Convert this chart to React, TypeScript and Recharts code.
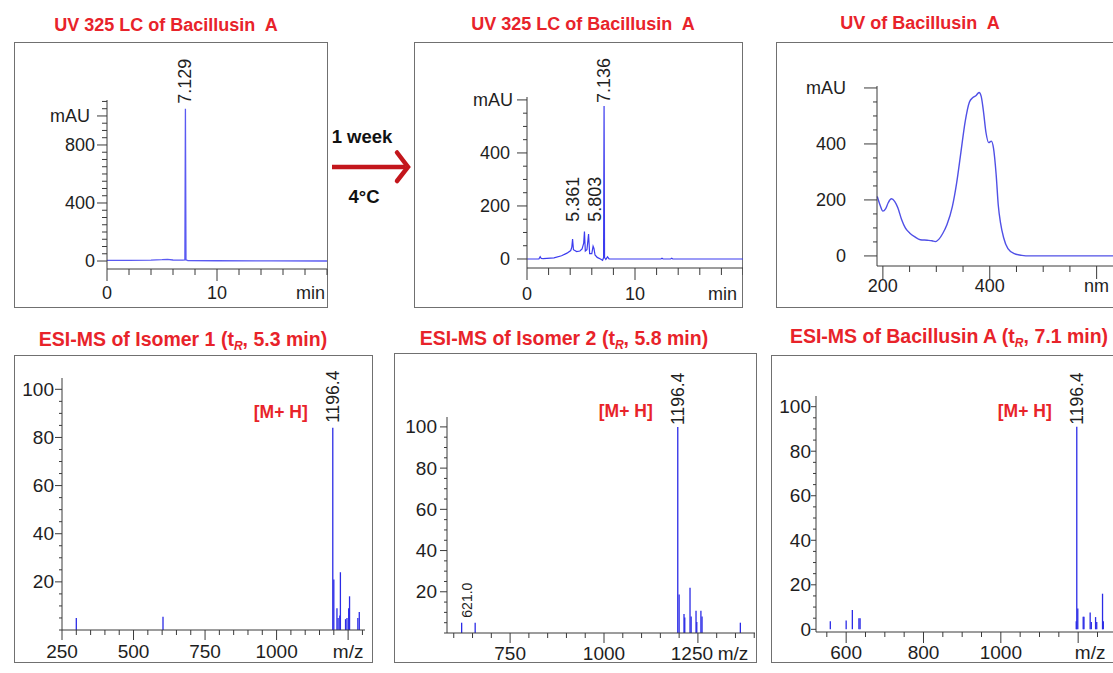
import React from 'react';
import { ComposedChart, Line, XAxis, YAxis, Scatter, ReferenceLine } from 'recharts';

const FONT = '"Liberation Sans", Arial, Helvetica, sans-serif';
const TITLE_RED = '#e8232a';
const ARROW_RED = '#c3161c';
const TRACE_BLUE = '#3b3bef';
const UV_BLUE = '#5050e6';
const STICK_BLUE = '#2b2be6';
const AXIS_GRAY = '#3a3a3a';
const TEXT = '#1e1e1e';
const BOX_GRAY = '#707070';

// ---------- Panel A: UV 325 LC of Bacillusin A (fresh) ----------
const lcBeforeTime = [0, 2, 4, 5, 5.5, 6, 6.9, 7.08, 7.129, 7.18, 7.35, 10, 15, 20];
const lcBeforeMau = [4, 5, 6, 9, 12, 7, 6, 8, 1050, 8, 3, 2, 1, 0];
const lcBeforeLabels = [{ x: 7.129, y: 1050, text: '7.129' }];

// ---------- Panel B: UV 325 LC after 1 week at 4 °C ----------
const lcAfterTime = [0, 1.1, 1.22, 1.32, 1.5, 2.5, 3.2, 3.7, 4.05, 4.15, 4.22, 4.3, 4.6, 4.9, 5.1, 5.25, 5.32, 5.4, 5.55, 5.7, 5.8, 6.0, 6.12, 6.2, 6.3, 6.5, 6.8, 7.0, 7.09, 7.136, 7.18, 7.3, 7.45, 7.6, 12.4, 12.5, 12.6, 13.3, 13.4, 13.5, 20];
const lcAfterMau = [0, 0, 9, 2, 1, 4, 12, 22, 32, 45, 75, 35, 28, 30, 38, 60, 104, 30, 35, 94, 20, 20, 48, 40, 15, 6, 0, -5, 5, 577, 5, -2, 8, 0, 0, 3, 0, 0, 3, 0, 0];
const lcAfterLabels = [
  { x: 7.136, y: 577, text: '7.136' },
  { x: 5.361, y: 140, text: '5.361' },
  { x: 5.803, y: 140, text: '5.803' },
];

// ---------- Panel C: UV spectrum ----------
const uvNm = [189.5, 195, 200, 205, 210, 216, 222, 228, 235, 242, 250, 260, 270, 283, 292, 298, 305, 312, 320, 330, 338, 346, 354, 362, 368, 374, 380, 384, 388, 393, 398, 403, 407, 412, 416, 420, 426, 434, 446, 460, 475, 640];
const uvMau = [212, 180, 160, 168, 190, 204, 195, 172, 130, 100, 82, 68, 58, 56, 54, 51, 60, 80, 112, 176, 260, 370, 480, 550, 565, 572, 584, 570, 520, 440, 405, 410, 385, 290, 180, 120, 65, 26, 8, 2, 0, 0];

// ---------- Panel D: ESI-MS isomer 1 ----------
const ms1Mz = [300, 603, 1196.4, 1200, 1211, 1215, 1221, 1223, 1241, 1246, 1252, 1255, 1284, 1289];
const ms1Int = [5, 5.5, 84, 21, 9, 5, 6, 24, 4.5, 5, 9, 14, 5, 7.5];
const ms1Labels = [{ x: 1196.4, y: 84, text: '1196.4', tag: '[M+ H]' }];

// ---------- Panel E: ESI-MS isomer 2 ----------
const ms2Mz = [621, 657, 1196.4, 1200, 1213, 1215, 1229, 1232, 1245, 1247, 1258, 1261, 1363];
const ms2Int = [5, 5, 100, 18.7, 9.2, 7.5, 22, 8, 10.8, 5.3, 10.8, 8, 5];
const ms2Labels = [
  { x: 1196.4, y: 100, text: '1196.4', tag: '[M+ H]' },
  { x: 621, y: 5, text: '621.0' },
];

// ---------- Panel F: ESI-MS Bacillusin A ----------
const ms3Mz = [559, 600, 616, 633, 636, 1195, 1196.4, 1199, 1213, 1215, 1231, 1234, 1245, 1248, 1263, 1265];
const ms3Int = [3.6, 4, 8.7, 5, 5, 3.6, 91, 9.4, 5.6, 5.6, 7.6, 3.3, 5.5, 3.3, 16, 3.6];
const ms3Labels = [{ x: 1196.4, y: 91, text: '1196.4', tag: '[M+ H]' }];

const zip = (xs: number[], ys: number[]) => xs.map((x, i) => ({ x, y: ys[i] }));
const range = (a: number, b: number, s: number) => {
  const r: number[] = [];
  for (let v = a; v <= b + 1e-9; v += s) r.push(Math.round(v * 1000) / 1000);
  return r;
};

type AxisSpec = {
  domain: [number, number];
  ticks: number[];
  major: number[];
  labels: Record<string, string>;
  majorLen: number;
  minorLen: number;
  labelOffset: number;
  anchors?: Record<string, string>;
  shifts?: Record<string, number>;
};

const xTick = (spec: AxisSpec, fs: number) => (props: any) => {
  const { x, y, payload } = props;
  const v = payload.value;
  const key = String(v);
  const isMajor = spec.major.includes(v);
  const label = spec.labels[key];
  return (
    <g>
      <line x1={x} x2={x} y1={y} y2={y + (isMajor ? spec.majorLen : spec.minorLen)} stroke={AXIS_GRAY} strokeWidth={1} />
      {label !== undefined && (
        <text
          x={x + (spec.shifts?.[key] ?? 0)}
          y={y + spec.labelOffset}
          textAnchor={(spec.anchors?.[key] ?? 'middle') as any}
          dominantBaseline="central"
          fontSize={fs}
          fontFamily={FONT}
          fill={TEXT}
        >
          {label}
        </text>
      )}
    </g>
  );
};

const yTick = (spec: AxisSpec, fs: number) => (props: any) => {
  const { x, y, payload } = props;
  const v = payload.value;
  const key = String(v);
  const isMajor = spec.major.includes(v);
  const label = spec.labels[key];
  return (
    <g>
      <line x1={x} x2={x - (isMajor ? spec.majorLen : spec.minorLen)} y1={y} y2={y} stroke={AXIS_GRAY} strokeWidth={1} />
      {label !== undefined && (
        <text
          x={x - spec.labelOffset - (spec.shifts?.[key] ?? 0)}
          y={y}
          textAnchor="end"
          dominantBaseline="central"
          fontSize={fs}
          fontFamily={FONT}
          fill={TEXT}
        >
          {label}
        </text>
      )}
    </g>
  );
};

type LabelStyle = { dx?: number; gap?: number; size?: number };
const peakLabel = (fs: number, styles: Record<string, LabelStyle>) => (props: any) => {
  const { cx, cy, payload } = props;
  const st = styles[payload.text] || {};
  const x = cx + (st.dx ?? 0);
  const y = cy - (st.gap ?? 4);
  return (
    <g>
      <text
        transform={`translate(${x},${y}) rotate(-90)`}
        textAnchor="start"
        dominantBaseline="central"
        fontSize={st.size ?? fs}
        fontFamily={FONT}
        fill={TEXT}
      >
        {payload.text}
      </text>
      {payload.tag && (
        <text x={cx - 52} y={cy - 16} textAnchor="middle" dominantBaseline="central" fontSize={17.5} fontWeight="bold" fontFamily={FONT} fill={TITLE_RED}>
          {payload.tag}
        </text>
      )}
    </g>
  );
};

type PanelProps = {
  left: number;
  top: number;
  width: number;
  height: number;
  yw: number;
  xh: number;
  mt: number;
  mr: number;
  xs: AxisSpec;
  ys: AxisSpec;
  fs: number;
  children?: React.ReactNode;
};

const Panel = ({ left, top, width, height, yw, xh, mt, mr, xs, ys, fs, children }: PanelProps) => (
  <div style={{ position: 'absolute', left, top }}>
    <ComposedChart width={width} height={height} margin={{ top: mt, right: mr, bottom: 0, left: 0 }}>
      <XAxis
        type="number"
        dataKey="x"
        domain={xs.domain}
        ticks={xs.ticks}
        interval={0}
        tickSize={0}
        tickMargin={0}
        tickLine={false}
        axisLine={{ stroke: AXIS_GRAY }}
        height={xh}
        tick={xTick(xs, fs)}
      />
      <YAxis
        type="number"
        dataKey="y"
        domain={ys.domain}
        ticks={ys.ticks}
        interval={0}
        tickSize={0}
        tickMargin={0}
        tickLine={false}
        axisLine={{ stroke: AXIS_GRAY }}
        width={yw}
        tick={yTick(ys, fs)}
      />
      {children}
    </ComposedChart>
  </div>
);

const Box = ({ l, t, r, b }: { l: number; t: number; r: number; b: number }) => (
  <div style={{ position: 'absolute', left: l, top: t, width: r - l, height: b - t, border: `1.5px solid ${BOX_GRAY}`, boxSizing: 'border-box' }} />
);

const Title = ({ cx, cy, fs, children }: { cx: number; cy: number; fs: number; children: React.ReactNode }) => (
  <div
    style={{
      position: 'absolute',
      left: cx - 250,
      width: 500,
      top: cy - 13,
      height: 26,
      lineHeight: '26px',
      textAlign: 'center',
      fontFamily: FONT,
      fontWeight: 'bold',
      fontSize: fs,
      color: TITLE_RED,
      whiteSpace: 'pre',
    }}
  >
    {children}
  </div>
);

const Sub = () => (
  <span style={{ fontSize: '0.62em', fontStyle: 'italic', position: 'relative', top: '0.3em' }}>R</span>
);

const sticks = (mz: number[], inten: number[]) =>
  mz.map((m, i) => (
    <ReferenceLine
      key={`s${i}`}
      segment={[
        { x: m, y: 0 },
        { x: m, y: inten[i] },
      ]}
      stroke={STICK_BLUE}
      strokeWidth={1.3}
      ifOverflow="visible"
    />
  ));

export default function App() {
  const TOP_FS = 18;
  const BOT_FS = 19;

  const p1x: AxisSpec = { domain: [0, 20], ticks: range(0, 20, 2), major: [0, 10], labels: { '0': '0', '10': '10', '20': 'min' }, anchors: { '20': 'end' }, shifts: { '20': -2 }, majorLen: 12, minorLen: 6, labelOffset: 24 };
  const p1y: AxisSpec = { domain: [-55, 1110], ticks: range(0, 1100, 50), major: [0, 400, 800, 1000], labels: { '0': '0', '400': '400', '800': '800', '1000': 'mAU' }, shifts: { '1000': 5 }, majorLen: 10, minorLen: 5, labelOffset: 12 };

  const p2x: AxisSpec = { domain: [0, 20], ticks: range(0, 20, 2), major: [0, 10], labels: { '0': '0', '10': '10', '20': 'min' }, anchors: { '20': 'end' }, shifts: { '20': -6 }, majorLen: 12, minorLen: 7, labelOffset: 26 };
  const p2y: AxisSpec = { domain: [-34, 611], ticks: range(0, 600, 50), major: [0, 200, 400, 600], labels: { '0': '0', '200': '200', '400': '400', '600': 'mAU' }, shifts: { '600': -3 }, majorLen: 10, minorLen: 4, labelOffset: 17 };

  const p3x: AxisSpec = { domain: [189, 640], ticks: range(200, 600, 50), major: [200, 400, 600], labels: { '200': '200', '400': '400', '600': 'nm' }, majorLen: 13, minorLen: 6, labelOffset: 20 };
  const p3y: AxisSpec = { domain: [-36, 607], ticks: range(0, 600, 50), major: [0, 200, 400, 600], labels: { '0': '0', '200': '200', '400': '400', '600': 'mAU' }, majorLen: 13, minorLen: 4, labelOffset: 31 };

  const p4x: AxisSpec = { domain: [250, 1309], ticks: range(250, 1300, 50), major: [250, 500, 750, 1000, 1250], labels: { '250': '250', '500': '500', '750': '750', '1000': '1000', '1250': 'm/z' }, majorLen: 10, minorLen: 5, labelOffset: 21 };
  const p4y: AxisSpec = { domain: [0, 104.7], ticks: range(0, 100, 5), major: [20, 40, 60, 80, 100], labels: { '20': '20', '40': '40', '60': '60', '80': '80', '100': '100' }, majorLen: 7, minorLen: 3, labelOffset: 8 };

  const p5x: AxisSpec = { domain: [582, 1402], ticks: range(600, 1400, 50), major: [750, 1000, 1250], labels: { '750': '750', '1000': '1000', '1250': '1250', '1400': 'm/z' }, anchors: { '1400': 'end' }, shifts: { '1250': -6, '1400': -6 }, majorLen: 10, minorLen: 5, labelOffset: 20 };
  const p5y: AxisSpec = { domain: [0, 104.8], ticks: range(0, 100, 5), major: [20, 40, 60, 80, 100], labels: { '20': '20', '40': '40', '60': '60', '80': '80', '100': '100' }, majorLen: 7, minorLen: 3, labelOffset: 10 };

  const p6x: AxisSpec = { domain: [522, 1303], ticks: range(550, 1300, 50), major: [600, 800, 1000, 1200], labels: { '600': '600', '800': '800', '1000': '1000', '1200': 'm/z' }, shifts: { '1200': 12 }, majorLen: 11, minorLen: 5, labelOffset: 20 };
  const p6y: AxisSpec = { domain: [-1.2, 104.8], ticks: range(0, 100, 5), major: [0, 20, 40, 60, 80, 100], labels: { '0': '0', '20': '20', '40': '40', '60': '60', '80': '80', '100': '100' }, majorLen: 5, minorLen: 3, labelOffset: 5 };

  return (
    <div style={{ position: 'absolute', left: 0, top: 0, width: 1113, height: 673, overflow: 'hidden', background: '#fff' }}>
      <Box l={14} t={42} r={328} b={308} />
      <Box l={414} t={42} r={743} b={308} />
      <Box l={776} t={42} r={1135} b={308} />
      <Box l={14} t={355} r={373} b={663} />
      <Box l={394} t={353} r={757} b={663} />
      <Box l={771} t={355} r={1135} b={663} />

      <Title cx={166} cy={25} fs={TOP_FS}>{'UV 325 LC of Bacillusin  A'}</Title>
      <Title cx={583} cy={24} fs={TOP_FS}>{'UV 325 LC of Bacillusin  A'}</Title>
      <Title cx={920} cy={23} fs={TOP_FS}>{'UV of Bacillusin  A'}</Title>
      <Title cx={183} cy={339} fs={19.5}>
        ESI-MS of Isomer 1 (t<Sub />, 5.3 min)
      </Title>
      <Title cx={564} cy={338} fs={19.5}>
        ESI-MS of Isomer 2 (t<Sub />, 5.8 min)
      </Title>
      <Title cx={949} cy={336} fs={19.5}>
        ESI-MS of Bacillusin A (t<Sub />, 7.1 min)
      </Title>

      <Panel left={14} top={42} width={314} height={266} yw={93} xh={39} mt={58} mr={1} xs={p1x} ys={p1y} fs={TOP_FS}>
        <Line data={zip(lcBeforeTime, lcBeforeMau)} dataKey="y" type="linear" stroke="#5a5af2" strokeWidth={1.3} dot={false} isAnimationActive={false} />
        <Scatter data={lcBeforeLabels} dataKey="y" isAnimationActive={false} shape={peakLabel(TOP_FS, { '7.129': { gap: 5 } })} />
      </Panel>

      <Panel left={414} top={42} width={329} height={266} yw={113} xh={40} mt={55} mr={0} xs={p2x} ys={p2y} fs={TOP_FS}>
        <Line data={zip(lcAfterTime, lcAfterMau)} dataKey="y" type="linear" stroke={TRACE_BLUE} strokeWidth={1.2} dot={false} isAnimationActive={false} />
        <Scatter
          data={lcAfterLabels}
          dataKey="y"
          isAnimationActive={false}
          shape={peakLabel(TOP_FS, { '7.136': { gap: 3 }, '5.361': { dx: -12, gap: 0 }, '5.803': { dx: 5, gap: 0 } })}
        />
      </Panel>

      <Panel left={776} top={42} width={347} height={266} yw={101} xh={42} mt={44} mr={5} xs={p3x} ys={p3y} fs={TOP_FS}>
        <Line data={zip(uvNm, uvMau)} dataKey="y" type="monotone" stroke={UV_BLUE} strokeWidth={1.4} dot={false} isAnimationActive={false} />
      </Panel>

      <Panel left={14} top={355} width={359} height={308} yw={48} xh={33} mt={23} mr={8} xs={p4x} ys={p4y} fs={BOT_FS}>
        {sticks(ms1Mz, ms1Int)}
        <Scatter data={ms1Labels} dataKey="y" isAnimationActive={false} shape={peakLabel(17.5, { '1196.4': { gap: 5 } })} />
      </Panel>

      <Panel left={394} top={353} width={363} height={310} yw={53} xh={30} mt={64} mr={2} xs={p5x} ys={p5y} fs={BOT_FS}>
        {sticks(ms2Mz, ms2Int)}
        <Scatter
          data={ms2Labels}
          dataKey="y"
          isAnimationActive={false}
          shape={peakLabel(17.5, { '1196.4': { gap: 2 }, '621.0': { dx: 5, gap: 5, size: 14 } })}
        />
      </Panel>

      <Panel left={771} top={355} width={352} height={308} yw={45} xh={31} mt={41} mr={5} xs={p6x} ys={p6y} fs={BOT_FS}>
        {sticks(ms3Mz, ms3Int)}
        <Scatter data={ms3Labels} dataKey="y" isAnimationActive={false} shape={peakLabel(17.5, { '1196.4': { gap: 2 } })} />
      </Panel>

      <svg width={1113} height={673} style={{ position: 'absolute', left: 0, top: 0, pointerEvents: 'none' }}>
        <line x1={332} y1={167} x2={405} y2={167} stroke={ARROW_RED} strokeWidth={4.5} />
        <polyline points="397,152.5 408,167 397,181" fill="none" stroke={ARROW_RED} strokeWidth={4.5} strokeLinecap="round" />
        <text x={362} y={136} textAnchor="middle" dominantBaseline="central" fontSize={18.5} fontWeight="bold" fontFamily={FONT} fill="#111">
          1 week
        </text>
        <text x={364} y={196} textAnchor="middle" dominantBaseline="central" fontSize={18.5} fontWeight="bold" fontFamily={FONT} fill="#111">
          4°C
        </text>
      </svg>
    </div>
  );
}
